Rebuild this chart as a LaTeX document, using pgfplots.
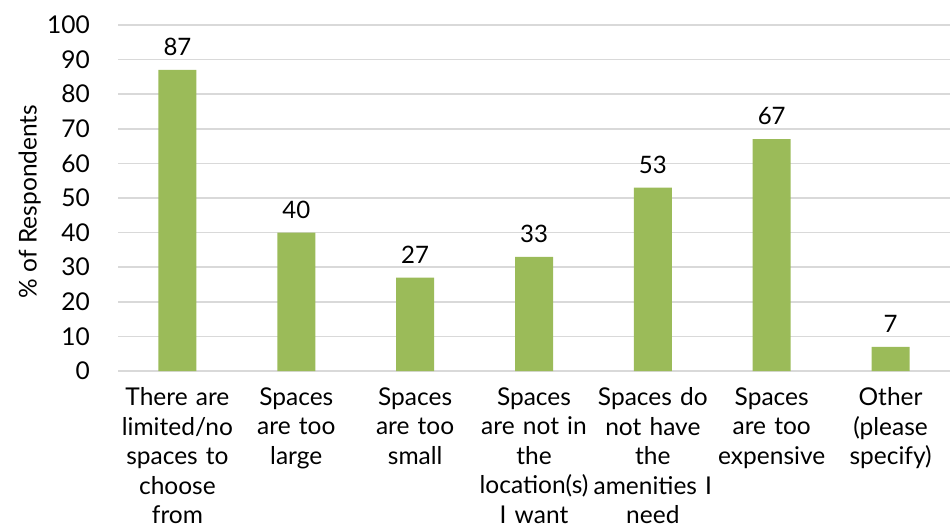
\documentclass[border=0pt]{standalone}
\usepackage{fontspec}
\setmainfont{Lato}
\usepackage{pgfplots}
\pgfplotsset{compat=1.18}
\definecolor{barg}{HTML}{9BBB59}
\definecolor{gridc}{HTML}{D9D9D9}
\begin{document}
\fontsize{24}{30}\selectfont
\begin{tikzpicture}
\path[use as bounding box] (0,0) rectangle (952pt,527pt);
\begin{axis}[
  at={(118pt,156pt)}, anchor=south west,
  scale only axis, width=832pt, height=346pt,
  xmin=-0.5, xmax=6.5, ymin=0, ymax=100,
  ytick={0,10,...,100},
  xtick={0,...,6},
  xticklabels={{There are\\limited/no\\spaces to\\choose\\from},
               {Spaces\\are too\\large},
               {Spaces\\are too\\small},
               {Spaces\\are not in\\the\\location(s)\\I want},
               {Spaces do\\not have\\the\\amenities I\\need},
               {Spaces\\are too\\expensive},
               {Other\\(please\\specify)}},
  xticklabel style={align=center, text width=130pt, anchor=north, yshift=-4pt, font=\fontsize{24.5}{29.5}\selectfont},
  yticklabel style={font=\fontsize{24.5}{30}\selectfont, xshift=-20pt},
  /pgf/number format/assume math mode=true,
  axis line style={draw=none},
  tick style={draw=none},
  ymajorgrids, grid style={gridc, line width=1.5pt},
  ylabel={\% of Respondents},
  ylabel style={at={(axis description cs:-0.106,0.49)}, anchor=center, font=\fontsize{24.5}{30}\selectfont},
  ybar, bar width=38pt,
  nodes near coords,
  every node near coord/.append style={font=\fontsize{24}{30}\selectfont, yshift=6pt, text=black},
]
\addplot[fill=barg, draw=none] coordinates {(0,87) (1,40) (2,27) (3,33) (4,53) (5,67) (6,7)};
\end{axis}
\end{tikzpicture}
\end{document}
